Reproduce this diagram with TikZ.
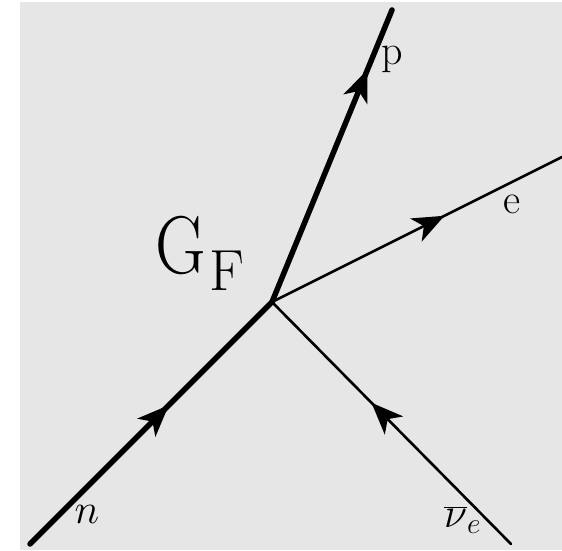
\documentclass[tikz,border=0pt]{standalone}
\usepackage{fix-cm}
\usetikzlibrary{decorations.markings}
\definecolor{bggray}{HTML}{E6E6E6}
\begin{document}
\begin{tikzpicture}[x=1pt,y=-1pt,
  thickline/.style={line width=5.5pt, line cap=round},
  thinline/.style={line width=2.6pt, line cap=round},
  midarrow/.style={decoration={markings, mark=at position #1 with {\fill (8pt,0pt) -- (-24pt,13pt) -- (-15pt,0pt) -- (-24pt,-13pt) -- cycle;}}, postaction={decorate}},
  lbl/.style={inner sep=0pt, anchor=base, font=\fontsize{42}{42}\selectfont}]
\useasboundingbox (0,0) rectangle (562,550);
\fill[bggray] (20,2) rectangle (562,550);
\coordinate (v) at (272,302);
\coordinate (nstart) at (30,544);
\coordinate (pend) at (392,10);
\coordinate (eend) at (562,157);
\coordinate (nustart) at (511,544);
\draw[thickline, midarrow=0.55] (nstart) -- (v);
\draw[thickline, midarrow=0.77] (v) -- (pend);
\draw[thinline, midarrow=0.57] (v) -- (eend);
\draw[thinline, midarrow=0.56] (nustart) -- (v);
\node[lbl] (plbl) at (392,64) {p};
\node[lbl] (elbl) at (512,213) {e};
\node[lbl] (nlbl) at (87,523) {$n$};
\node[lbl, anchor=base west] (nulbl) at (444,527) {$\overline{\nu}_{e}$};
\node[inner sep=0pt, anchor=base west, font=\fontsize{82}{82}\selectfont, xscale=0.85] (G) at (155,273) {G};
\node[inner sep=0pt, anchor=base west, font=\fontsize{58}{58}\selectfont] (F) at (209,290) {F};
\end{tikzpicture}
\end{document}
